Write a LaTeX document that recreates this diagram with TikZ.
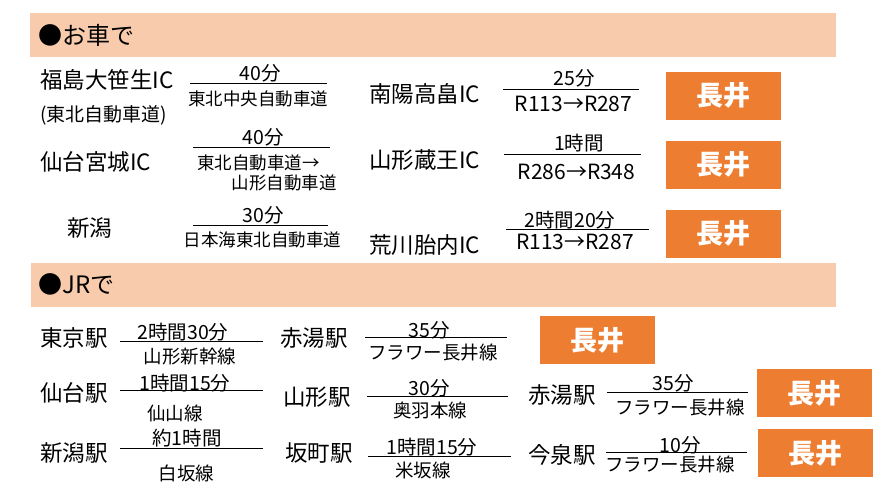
\documentclass[tikz,border=0pt]{standalone}
\usepackage{fontspec}
\setmainfont{Noto Sans CJK JP}
\definecolor{bandc}{HTML}{F8CBAD}
\definecolor{boxc}{HTML}{ED7D31}
\tikzset{
  bandfill/.style={fill=bandc, draw=none},
  hdrtext/.style={anchor=west, inner sep=0pt, font=\fontsize{24}{24}\selectfont},
  lbltext/.style={anchor=west, inner sep=0pt, font=\fontsize{22.5}{23}\selectfont},
  sublbl/.style={anchor=west, inner sep=0pt, font=\fontsize{19}{19}\selectfont},
  tmtext/.style={inner sep=0pt, font=\fontsize{19.5}{20}\selectfont},
  rttext/.style={inner sep=0pt, font=\fontsize{17.5}{18}\selectfont},
  rtroad/.style={inner sep=0pt, font=\fontsize{21}{21}\selectfont},
  jrtext/.style={inner sep=0pt, font=\fontsize{18.5}{19}\selectfont},
  barline/.style={draw=black, line width=1pt},
  destbox/.style={fill=boxc, draw=none, text=white, minimum width=115pt, minimum height=48pt, inner sep=0pt, font=\fontsize{27}{27}\selectfont\bfseries}
}
\begin{document}
\begin{tikzpicture}[x=1pt,y=-1pt]
\useasboundingbox (0,0) rectangle (891,495);
% ---------- car section
\path[bandfill] (30,13) rectangle (836,57);
\node[hdrtext] (car) at (38,35) {●お車で};

\node[lbltext] (n1) at (40,80) {福島大笹生IC};
\node[sublbl] (n1b) at (40,115) {(東北自動車道)};
\node[tmtext] (t1) at (260,73) {40分};
\coordinate (l1a) at (190,83); \coordinate (l1b) at (327,83);
\draw[barline] (l1a) -- (l1b);
\node[rttext] (r1) at (258,99) {東北中央自動車道};

\node[lbltext] (n2) at (369,94) {南陽高畠IC};
\node[tmtext] (t2) at (574,78) {25分};
\coordinate (l2a) at (503,89); \coordinate (l2b) at (639,89);
\draw[barline] (l2a) -- (l2b);
\node[rtroad] (r2) at (573.5,104) {R113→R287};
\node[destbox] (d1) at (723.5,95.5) {長井};

\node[lbltext] (n3) at (40,162) {仙台宮城IC};
\node[tmtext] (t3) at (263,137) {40分};
\coordinate (l3a) at (193,147); \coordinate (l3b) at (330,147);
\draw[barline] (l3a) -- (l3b);
\node[rttext, anchor=west] (r3a) at (197,163) {東北自動車道→};
\node[rttext, anchor=east] (r3b) at (337,183) {山形自動車道};

\node[lbltext] (n4) at (369,160) {山形蔵王IC};
\node[tmtext] (t4) at (579,143) {1時間};
\coordinate (l4a) at (504,154); \coordinate (l4b) at (641,154);
\draw[barline] (l4a) -- (l4b);
\node[rtroad] (r4) at (576.5,172) {R286→R348};
\node[destbox] (d2) at (723.5,164.5) {長井};

\node[lbltext] (n5) at (67,228) {新潟};
\node[tmtext] (t5) at (263,215) {30分};
\coordinate (l5a) at (193,225); \coordinate (l5b) at (328,225);
\draw[barline] (l5a) -- (l5b);
\node[rttext] (r5) at (262.5,240) {日本海東北自動車道};

\node[lbltext] (n6) at (369,245) {荒川胎内IC};
\node[tmtext] (t6) at (570,220) {2時間20分};
\coordinate (l6a) at (506,229); \coordinate (l6b) at (649,229);
\draw[barline] (l6a) -- (l6b);
\node[rtroad] (r6) at (575,242) {R113→R287};
\node[destbox] (d3) at (723,233.5) {長井};

% ---------- JR section
\path[bandfill] (31,263) rectangle (836,307);
\node[hdrtext] (jr) at (38,284) {●JRで};

% row 1
\node[lbltext] (s1) at (40,338) {東京駅};
\node[tmtext] (u1) at (183,332) {2時間30分};
\coordinate (m1a) at (120,341); \coordinate (m1b) at (263,341);
\draw[barline] (m1a) -- (m1b);
\node[jrtext] (v1) at (190,357) {山形新幹線};
\node[lbltext] (s2) at (280,338) {赤湯駅};
\node[tmtext] (u2) at (429,330) {35分};
\coordinate (m2a) at (365,337); \coordinate (m2b) at (507,337);
\draw[barline] (m2a) -- (m2b);
\node[jrtext] (v2) at (433,353) {フラワー長井線};
\node[destbox] (e1) at (597,340) {長井};

% row 2
\node[lbltext] (s3) at (40,393) {仙台駅};
\node[tmtext] (u3) at (185,383) {1時間15分};
\coordinate (m3a) at (120,390); \coordinate (m3b) at (263,390);
\draw[barline] (m3a) -- (m3b);
\node[jrtext] (v3) at (175,413) {仙山線};
\node[lbltext] (s4) at (283,397) {山形駅};
\node[tmtext] (u4) at (429,388) {30分};
\coordinate (m4a) at (367,396); \coordinate (m4b) at (508,396);
\draw[barline] (m4a) -- (m4b);
\node[jrtext] (v4) at (430,410) {奥羽本線};
\node[lbltext] (s5) at (528,395) {赤湯駅};
\node[tmtext] (u5) at (673,383) {35分};
\coordinate (m5a) at (607,392); \coordinate (m5b) at (748,392);
\draw[barline] (m5a) -- (m5b);
\node[jrtext] (v5) at (680,408) {フラワー長井線};
\node[destbox] (e2) at (814,393) {長井};

% row 3
\node[lbltext] (s6) at (40,453) {新潟駅};
\node[tmtext] (u6) at (187,438) {約1時間};
\coordinate (m6a) at (120,448); \coordinate (m6b) at (263,448);
\draw[barline] (m6a) -- (m6b);
\node[jrtext] (v6) at (186.5,473) {白坂線};
\node[lbltext] (s7) at (285,453) {坂町駅};
\node[tmtext] (u7) at (432,447) {1時間15分};
\coordinate (m7a) at (368,456); \coordinate (m7b) at (511,456);
\draw[barline] (m7a) -- (m7b);
\node[jrtext] (v7) at (423,470) {米坂線};
\node[lbltext] (s8) at (528,455) {今泉駅};
\node[tmtext] (u8) at (680,445) {10分};
\coordinate (m8a) at (606,452); \coordinate (m8b) at (747,452);
\draw[barline] (m8a) -- (m8b);
\node[jrtext] (v8) at (670,465) {フラワー長井線};
\node[destbox] (e3) at (815.5,453) {長井};
\end{tikzpicture}
\end{document}
